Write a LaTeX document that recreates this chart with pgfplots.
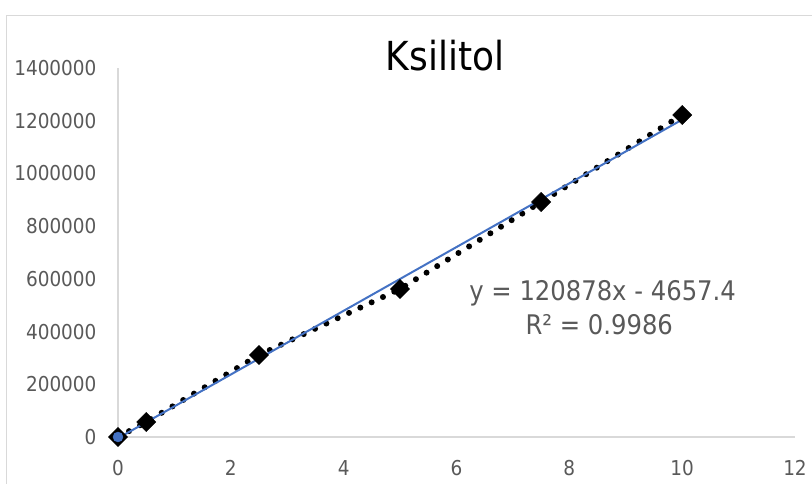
\documentclass[border=0pt]{standalone}
\usepackage{pgfplots}
\pgfplotsset{compat=1.18}
\usepackage{fontspec}
\setmainfont{DejaVu Sans}[FakeStretch=0.9]
\definecolor{txtgray}{HTML}{595959}
\definecolor{axgray}{HTML}{D9D9D9}
\definecolor{trendblue}{HTML}{4472C4}
\begin{document}
\begin{tikzpicture}
\begin{axis}[
    scale only axis,
    width=677pt,
    height=369pt,
    xmin=0, xmax=12,
    ymin=0, ymax=1400000,
    xtick={0,2,...,12},
    ytick={0,200000,400000,600000,800000,1000000,1200000,1400000},
    scaled y ticks=false,
    /pgf/number format/fixed,
    /pgf/number format/precision=0,
    /pgf/number format/assume math mode=true,
    /pgf/number format/1000 sep={},
    axis lines=left,
    axis line style={-, draw=axgray, line width=1.5pt},
    major tick length=0pt,
    ticklabel style={font=\fontsize{20.5}{25}\selectfont, text=txtgray},
    yticklabel style={xshift=-18pt},
    xticklabel style={yshift=-20pt},
    clip=false,
]
% data series: dotted connecting line
\addplot[black, line width=6pt, line cap=round, dash pattern=on 0pt off 12.5pt]
coordinates {(0,0)(0.5,57000)(2.5,311000)(5,561500)(7.5,891600)(10,1221700)};
% data markers
\addplot[only marks, mark=square*, mark size=6.8pt, mark options={rotate=45, fill=black, draw=black}]
coordinates {(0,0)(0.5,57000)(2.5,311000)(5,561500)(7.5,891600)(10,1221700)};
% linear trendline
\addplot[trendblue, line width=2pt] coordinates {(0,-4657.4)(10,1204122.6)};
\addplot[only marks, mark=*, mark size=5pt, mark options={fill=trendblue, draw=trendblue}]
coordinates {(0,0)};
\node[anchor=base, font=\fontsize{27}{32}\selectfont, text=txtgray] at (axis cs:8.59,516000) {y = 120878x - 4657.4};
\node[anchor=base, font=\fontsize{27}{32}\selectfont, text=txtgray] at (axis cs:8.53,387000) {R² = 0.9986};
\end{axis}
\node[anchor=base, font=\fontsize{40}{48}\selectfont] at (327pt,366pt) {Ksilitol};
\draw[axgray, line width=1pt] (-111pt,-50pt) -- (-111pt,421pt) -- (700pt,421pt);
\pgfresetboundingbox
\path[use as bounding box] (-118pt,-47pt) rectangle (694pt,437pt);
\end{tikzpicture}
\end{document}
